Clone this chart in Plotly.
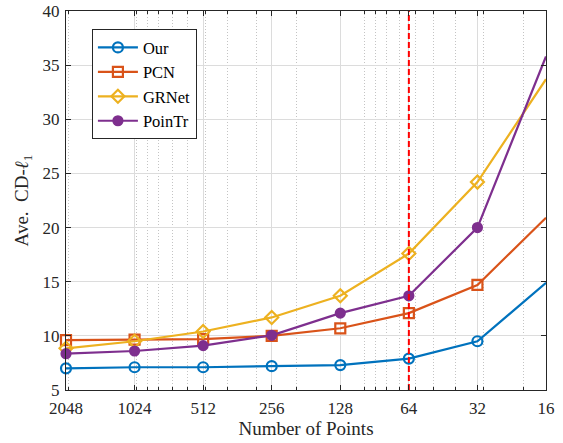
import numpy as np
import plotly.graph_objects as go

points = [2048, 1024, 512, 256, 128, 64, 32, 16]
tick_labels = ["2048", "1024", "512", "256", "128", "64", "32", "16"]
our = [7.0, 7.1, 7.1, 7.2, 7.3, 7.9, 9.5, 14.9]
pcn = [9.6, 9.65, 9.7, 10.0, 10.7, 12.1, 14.7, 20.9]
grnet = [8.85, 9.5, 10.4, 11.7, 13.7, 17.6, 24.2, 33.7]
pointr = [8.35, 8.6, 9.1, 10.05, 12.1, 13.7, 20.0, 35.8]
cutoff = 64
minor_vals = [2000, 1000, 900, 800, 700, 600, 500, 400, 300, 200,
              100, 90, 80, 70, 60, 50, 40, 30, 20]

FONT = "Liberation Serif, Times New Roman, serif"

fig = go.Figure()
series = [
    ("Our", our, "#0072BD", "circle-open"),
    ("PCN", pcn, "#D95319", "square-open"),
    ("GRNet", grnet, "#EDB120", "diamond-open"),
    ("PoinTr", pointr, "#7E2F8E", "circle"),
]
for name, vals, col, sym in series:
    fig.add_trace(go.Scatter(
        x=points, y=vals, name=name, mode="lines+markers",
        line=dict(color=col, width=2.2),
        marker=dict(symbol=sym, size=10 if sym != "circle" else 9,
                    color=col, line=dict(color=col, width=2.2)),
        cliponaxis=False,
    ))

fig.add_trace(go.Scatter(
    x=[cutoff, cutoff], y=[5, 40], mode="lines", showlegend=False,
    line=dict(color="#FF0000", width=2, dash="6px,3px"), hoverinfo="skip",
))

axis_common = dict(
    showline=True, linecolor="#262626", linewidth=1, mirror="ticks",
    ticks="inside", ticklen=5, tickcolor="#262626",
    tickfont=dict(family=FONT, size=17, color="#262626"),
    zeroline=False, automargin=False,
)

fig.update_layout(
    width=563, height=443,
    margin=dict(l=66, r=17, t=11, b=53),
    paper_bgcolor="white", plot_bgcolor="white",
    font=dict(family=FONT, size=17, color="#262626"),
    xaxis=dict(
        type="log", range=[np.log10(2048), np.log10(16)],
        tickvals=points, ticktext=tick_labels, ticklabelstandoff=3,
        showgrid=True, gridcolor="#dcdcdc", gridwidth=1,
        minor=dict(tickvals=minor_vals, ticks="inside", ticklen=3,
                   tickcolor="#262626", showgrid=True,
                   gridcolor="#c4c4c4", griddash="1px,2px", gridwidth=1),
        title=dict(text="Number of Points", font=dict(family=FONT, size=19),
                   standoff=2),
        **axis_common,
    ),
    yaxis=dict(
        range=[5, 40], dtick=5, tick0=5, ticklabelstandoff=2,
        showgrid=True, gridcolor="#dcdcdc", gridwidth=1,
        title=dict(text="Ave.  CD-<i>ℓ</i><sub>1</sub>",
                   font=dict(family=FONT, size=19), standoff=8),
        **axis_common,
    ),
    legend=dict(
        x=0.054, y=0.952, xanchor="left", yanchor="top",
        bgcolor="white", bordercolor="#262626", borderwidth=1,
        font=dict(family=FONT, size=16.5, color="#000000"),
        tracegroupgap=0, itemwidth=40,
    ),
    showlegend=True,
)

fig.write_html("out.html",
               config={"displayModeBar": False},
               post_script="document.body.style.margin='0';document.body.style.overflow='hidden';")
